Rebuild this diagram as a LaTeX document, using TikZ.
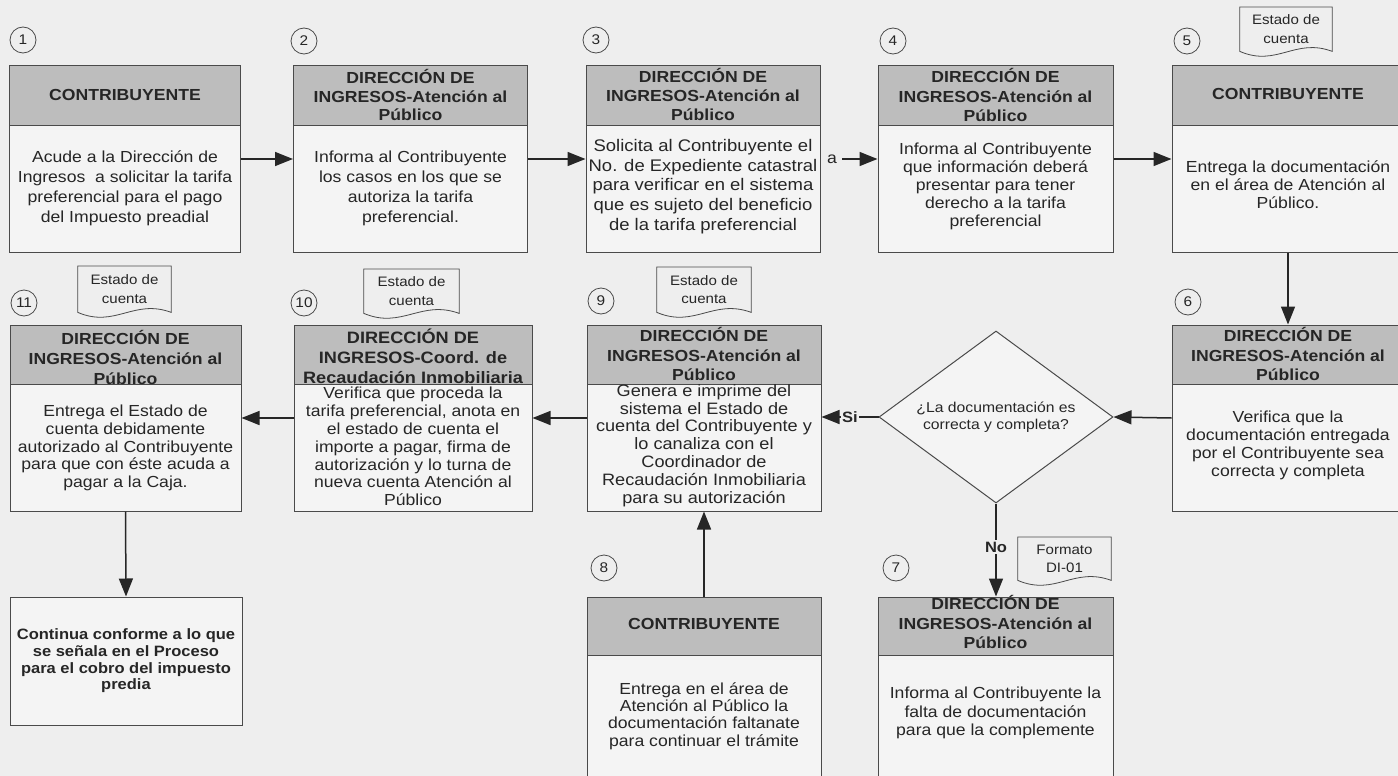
\documentclass[tikz,border=0pt]{standalone}
\usepackage{fontspec}
\setmainfont{Liberation Sans}[FakeStretch=1.1]
\usetikzlibrary{arrows.meta,shapes.geometric,calc}

\definecolor{paper}{HTML}{EEEEEE}
\definecolor{bodyfill}{HTML}{F4F4F4}
\definecolor{headfill}{HTML}{BDBDBD}
\definecolor{ink}{HTML}{262626}
\definecolor{edge}{HTML}{4A4A4A}

% font helpers: size, line spacing
\newcommand\fHead[1]{\fontsize{16}{#1}\selectfont\bfseries}
\newcommand\fBody[1]{\fontsize{16}{#1}\selectfont}
\newcommand\fDoc{\fontsize{13.7}{18.5}\selectfont}

\tikzset{
  box/.style={draw=edge, line width=1pt, fill=bodyfill, inner sep=0pt},
  head/.style={draw=edge, line width=1pt, fill=headfill, inner sep=0pt, anchor=north},
  txt/.style={align=center, text=ink, inner sep=0pt},
  num/.style={circle, draw=edge, line width=0.8pt, minimum size=26pt, inner sep=0pt,
    font=\fontsize{14}{14}\selectfont, text=ink},
  doc/.style={minimum height=44pt, inner sep=0pt, align=center, text=ink, font=\fDoc, anchor=north},
  docline/.style={draw=edge, line width=0.8pt},
  arr/.style={draw=ink, line width=1.5pt, -{Triangle[length=18pt,width=14pt]}},
  tag/.style={fill=paper, inner sep=1.5pt, text=ink, font=\fontsize{15}{15}\selectfont\bfseries},
}

% process box: name, cx, cy, width, height, header height
\newcommand\procbox[6]{%
  \node[box, minimum width=#4pt, minimum height=#5pt] (#1) at (#2,#3) {};
  \node[head, minimum width=#4pt, minimum height=#6pt] (#1h) at (#1.north) {};
}
% document symbol drawn around a named text node
\newcommand\docoutline[1]{%
  \draw[docline] (#1.north west) -- (#1.south west)
    .. controls ($(#1.south west)!0.4!(#1.south east)+(0,16)$)
           and ($(#1.south west)!0.6!(#1.south east)+(0,-14)$) .. (#1.south east)
    -- (#1.north east) -- cycle;
}

\begin{document}
\begin{tikzpicture}[x=1pt,y=-1pt]
\useasboundingbox[fill=paper] (0,0) rectangle (1398,776);

% ---------- row 1 ----------
\procbox{s1}{125}{159}{231}{186}{59}
\procbox{s2}{410.5}{159}{234}{186}{59}
\procbox{s3}{703}{159}{234}{186}{59}
\procbox{s4}{995.5}{159}{235}{186}{59}
\procbox{s5}{1290}{159}{236}{186}{59}

\node[txt, font=\fHead{19}] (s1t) at (125,95) {CONTRIBUYENTE};
\node[txt, font=\fBody{20}] (s1b) at (125,188) {Acude a la Dirección de\\Ingresos\ \ a solicitar la tarifa\\preferencial para el pago\\del Impuesto preadial};

\node[txt, font=\fHead{18.5}] (s2t) at (410.5,95) {DIRECCIÓN DE\\INGRESOS-Atención al\\Público};
\node[txt, font=\fBody{20}] (s2b) at (410.5,188) {Informa al Contribuyente\\los casos en los que se\\autoriza la tarifa\\preferencial.};

\node[txt, font=\fHead{19}] (s3t) at (703,94) {DIRECCIÓN DE\\INGRESOS-Atención al\\Público};
\node[txt, font=\fontsize{16.8}{19.7}\selectfont] (s3b) at (703,186.5) {Solicita al Contribuyente el\\No. de Expediente catastral\\para verificar en el sistema\\que es sujeto del beneficio\\de la tarifa preferencial};

\node[txt, font=\fHead{19.5}] (s4t) at (995.5,95) {DIRECCIÓN DE\\INGRESOS-Atención al\\Público};
\node[txt, font=\fBody{18}] (s4b) at (995.5,186) {Informa al Contribuyente\\que información deberá\\presentar para tener\\derecho a la tarifa\\preferencial};

\node[txt, font=\fHead{19}] (s5t) at (1288,94) {CONTRIBUYENTE};
\node[txt, font=\fBody{18}] (s5b) at (1288,185) {Entrega la documentación\\en el área de Atención al\\Público.};

% ---------- row 2 ----------
\procbox{s11}{125.5}{418}{231}{186}{59}
\procbox{s10}{413}{418}{238}{186}{59}
\procbox{s9}{704}{418}{234}{186}{59}
\procbox{s6}{1290}{418}{236}{186}{59}
\node[diamond, draw=edge, line width=1pt, fill=bodyfill, minimum width=234pt, minimum height=172pt, inner sep=0pt] (dia) at (996,417) {};
\node[txt, font=\fontsize{14.3}{17.5}\selectfont] (diat) at (dia.center) {¿La documentación es\\correcta y completa?};

\node[txt, font=\fHead{20}] (s11t) at (125.5,357) {DIRECCIÓN DE\\INGRESOS-Atención al\\Público};
\node[txt, font=\fBody{17.8}] (s11b) at (125.5,448) {Entrega el Estado de\\cuenta debidamente\\autorizado al Contribuyente\\para que con éste acuda a\\pagar a la Caja.};

\node[txt, font=\fontsize{16.5}{20}\selectfont\bfseries] (s10t) at (413,356) {DIRECCIÓN DE\\INGRESOS-Coord. de\\Recaudación Inmobiliaria};
\node[txt, font=\fBody{17.8}] (s10b) at (413,446.5) {Verifica que proceda la\\tarifa preferencial, anota en\\el estado de cuenta el\\importe a pagar, firma de\\autorización y lo turna de\\nueva cuenta Atención al\\Público};

\node[txt, font=\fHead{19.5}] (s9t) at (704,354) {DIRECCIÓN DE\\INGRESOS-Atención al\\Público};
\node[txt, font=\fontsize{16.5}{17.8}\selectfont] (s9b) at (704,445.5) {Genera e imprime del\\sistema el Estado de\\cuenta del Contribuyente y\\lo canaliza con el\\Coordinador de\\Recaudación Inmobiliaria\\para su autorización};

\node[txt, font=\fHead{19.5}] (s6t) at (1288,354) {DIRECCIÓN DE\\INGRESOS-Atención al\\Público};
\node[txt, font=\fBody{18}] (s6b) at (1288,445) {Verifica que la\\documentación entregada\\por el Contribuyente sea\\correcta y completa};

% ---------- row 3 ----------
\node[box, minimum width=232pt, minimum height=128pt] (cont) at (126,661) {};
\node[txt, font=\fontsize{15}{16.7}\selectfont\bfseries] (contt) at (126,661) {Continua conforme a lo que\\se señala en el Proceso\\para el cobro del impuesto\\predia};

\procbox{s8}{704}{695}{234}{196}{58}
\procbox{s7}{995.5}{695}{235}{196}{58}

\node[txt, font=\fHead{19}] (s8t) at (704,624) {CONTRIBUYENTE};
\node[txt, font=\fBody{17.3}] (s8b) at (704,716) {Entrega en el área de\\Atención al Público la\\documentación faltanate\\para continuar el trámite};

\node[txt, font=\fHead{19.5}] (s7t) at (995.5,622) {DIRECCIÓN DE\\INGRESOS-Atención al\\Público};
\node[txt, font=\fBody{18.5}] (s7b) at (995.5,713) {Informa al Contribuyente la\\falta de documentación\\para que la complemente};

% ---------- step numbers ----------
\node[num] (c1) at (23,40) {1};
\node[num] (c2) at (304,41) {2};
\node[num] (c3) at (596,40) {3};
\node[num] (c4) at (893,41) {4};
\node[num] (c5) at (1187,41) {5};
\node[num] (c11) at (24,303) {11};
\node[num] (c10) at (304,303) {10};
\node[num] (c9) at (601,301) {9};
\node[num] (c6) at (1188,302) {6};
\node[num] (c8) at (604,568) {8};
\node[num] (c7) at (896,568) {7};

% ---------- documents ----------
\node[doc, minimum width=92pt] (d5) at (1286,7) {Estado de\\cuenta};
\node[doc, minimum width=93pt, minimum height=46pt] (d11) at (124.5,266) {Estado de\\cuenta};
\node[doc, minimum width=95pt] (d10) at (411.5,269) {Estado de\\cuenta};
\node[doc, minimum width=94pt, minimum height=45pt] (d9) at (704,267) {Estado de\\cuenta};
\node[doc, minimum width=93pt, minimum height=43pt] (d7) at (1064.5,537) {Formato\\DI-01};
\foreach \d in {d5,d11,d10,d9,d7} {\docoutline{\d}}

% ---------- connectors ----------
\node[txt, font=\fontsize{16}{16}\selectfont, inner xsep=5pt] (la) at (832,159) {a};
\draw[arr] (s1.east) -- (s2.west);
\draw[arr] (s2.east) -- (s3.west);
\draw[arr] (la.east) -- (s4.west);
\draw[arr] (s4.east) -- (s5.west);
\draw[arr] (s5.south -| s5b) -- (s6.north -| s5b);
\draw[arr] (s6.west) -- (dia.east);
\draw[arr] (dia.west) -- node[tag, pos=0.5] {Si} (dia.west -| s9.east);
\draw[arr] (s9.west) -- (s10.east);
\draw[arr] (s10.west) -- (s11.east);
\draw[arr] (s11.south) -- (cont.north);
\draw[arr] (s8.north) -- (s9.south);
\draw[arr] (dia.south) -- node[tag, pos=0.47] {No} (dia.south |- s7.north);
\end{tikzpicture}
\end{document}
